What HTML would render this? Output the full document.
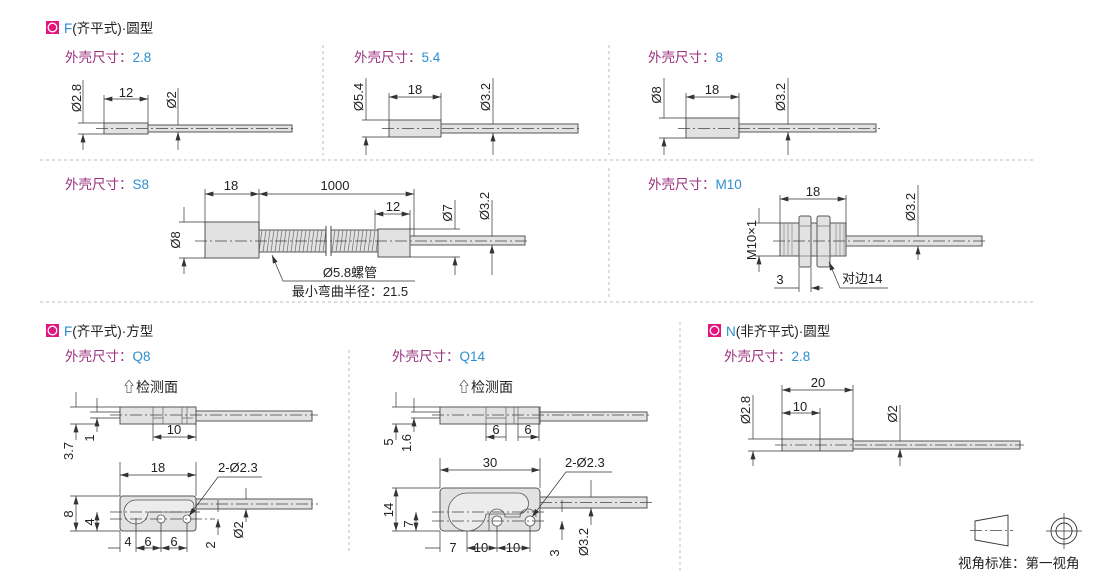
<!DOCTYPE html>
<html><head><meta charset="utf-8"><style>
body{margin:0;background:#fff}
svg{display:block;font-family:"Liberation Sans","Noto Sans CJK SC",sans-serif}
.p{fill:#e2e2e2;stroke:#555;stroke-width:1}
.d{stroke:#333;stroke-width:.7;fill:none}
.c{stroke:#444;stroke-width:.7;stroke-dasharray:12 3 2 3;fill:none}
.s{stroke:#bbb;stroke-width:1;stroke-dasharray:3 3;fill:none}
.t{font-size:13px;fill:#222}
.l{font-size:13.5px;fill:#9b2f7d}
.v{fill:#2b8fd0}
.h{font-size:13.5px;fill:#222}
</style></head><body>
<svg width="1110" height="574" viewBox="0 0 1110 574" xmlns="http://www.w3.org/2000/svg">
<defs><marker id="a" viewBox="0 0 10 6" refX="10" refY="3" markerUnits="userSpaceOnUse" markerWidth="9" markerHeight="5" orient="auto-start-reverse"><path d="M0,0L10,3L0,6z" fill="#333"/></marker></defs>

<!-- separators -->
<path class="s" d="M323,45V155M609,45V155M40,160H1035M609,168V298M40,302H1035M349,350V552M680,322V572"/>

<!-- headers -->
<rect x="46" y="21" width="13" height="13" fill="#e3157f"/><circle cx="52.5" cy="27.5" r="4.3" fill="none" stroke="#fff" stroke-width="1.3"/>
<text x="64" y="33" class="h"><tspan class="v">F</tspan>(齐平式)·圆型</text>
<rect x="46" y="324" width="13" height="13" fill="#e3157f"/><circle cx="52.5" cy="330.5" r="4.3" fill="none" stroke="#fff" stroke-width="1.3"/>
<text x="64" y="336" class="h"><tspan class="v">F</tspan>(齐平式)·方型</text>
<rect x="708" y="324" width="13" height="13" fill="#e3157f"/><circle cx="714.5" cy="330.5" r="4.3" fill="none" stroke="#fff" stroke-width="1.3"/>
<text x="726" y="336" class="h"><tspan class="v">N</tspan>(非齐平式)·圆型</text>

<text x="65" y="62" class="l">外壳尺寸：<tspan class="v">2.8</tspan></text>
<text x="354" y="62" class="l">外壳尺寸：<tspan class="v">5.4</tspan></text>
<text x="648" y="62" class="l">外壳尺寸：<tspan class="v">8</tspan></text>
<text x="65" y="189" class="l">外壳尺寸：<tspan class="v">S8</tspan></text>
<text x="648" y="189" class="l">外壳尺寸：<tspan class="v">M10</tspan></text>
<text x="65" y="361" class="l">外壳尺寸：<tspan class="v">Q8</tspan></text>
<text x="392" y="361" class="l">外壳尺寸：<tspan class="v">Q14</tspan></text>
<text x="724" y="361" class="l">外壳尺寸：<tspan class="v">2.8</tspan></text>

<!-- Part 2.8 -->
<rect class="p" x="104" y="123" width="44" height="11"/>
<rect class="p" x="148" y="125" width="144" height="7"/>
<path class="c" d="M96,128.5H296"/>
<path class="d" d="M78,123H104M78,134H104M83,80V123M83,150V134" marker-end="url(#a)"/>
<path class="d" d="M104,95V123M148,95V123"/><path class="d" d="M104,99H148" marker-start="url(#a)" marker-end="url(#a)"/>
<text class="t" x="126" y="97" text-anchor="middle">12</text>
<path class="d" d="M178,88V125M178,150V132" marker-end="url(#a)"/>
<text class="t" transform="translate(81,98) rotate(-90)" text-anchor="middle">Ø2.8</text>
<text class="t" transform="translate(176,100) rotate(-90)" text-anchor="middle">Ø2</text>

<!-- Part 5.4 -->
<rect class="p" x="389" y="120" width="52" height="17"/>
<rect class="p" x="441" y="124" width="137" height="9"/>
<path class="c" d="M382,128.5H582"/>
<path class="d" d="M362,120H389M362,137H389M366,78V120M366,155V137" marker-end="url(#a)"/>
<path class="d" d="M389,93V120M441,93V120"/><path class="d" d="M389,97H441" marker-start="url(#a)" marker-end="url(#a)"/>
<text class="t" x="415" y="94" text-anchor="middle">18</text>
<path class="d" d="M493,78V124M493,155V133" marker-end="url(#a)"/>
<text class="t" transform="translate(363,97) rotate(-90)" text-anchor="middle">Ø5.4</text>
<text class="t" transform="translate(490,97) rotate(-90)" text-anchor="middle">Ø3.2</text>

<!-- Part 8 -->
<rect class="p" x="686" y="118" width="53" height="20"/>
<rect class="p" x="739" y="124" width="137" height="8"/>
<path class="c" d="M678,128.5H880"/>
<path class="d" d="M659,118H686M659,138H686M664,78V118M664,155V138" marker-end="url(#a)"/>
<path class="d" d="M686,93V118M739,93V118"/><path class="d" d="M686,97H739" marker-start="url(#a)" marker-end="url(#a)"/>
<text class="t" x="712" y="94" text-anchor="middle">18</text>
<path class="d" d="M788,78V124M788,155V132" marker-end="url(#a)"/>
<text class="t" transform="translate(661,95) rotate(-90)" text-anchor="middle">Ø8</text>
<text class="t" transform="translate(785,97) rotate(-90)" text-anchor="middle">Ø3.2</text>

<!-- S8 -->
<rect class="p" x="259" y="230" width="67" height="22" fill="#ddd"/>
<rect class="p" x="331" y="230" width="47" height="22"/>
<path d="M262,230l-3,22M266,230l-3,22M270,230l-3,22M274,230l-3,22M278,230l-3,22M282,230l-3,22M286,230l-3,22M290,230l-3,22M294,230l-3,22M298,230l-3,22M302,230l-3,22M306,230l-3,22M310,230l-3,22M314,230l-3,22M318,230l-3,22M322,230l-3,22M326,230l-3,22M335,230l-3,22M339,230l-3,22M343,230l-3,22M347,230l-3,22M351,230l-3,22M355,230l-3,22M359,230l-3,22M363,230l-3,22M367,230l-3,22M371,230l-3,22M375,230l-3,22M379,230l-3,22" stroke="#777" stroke-width=".8"/>
<rect x="326" y="226" width="5" height="30" fill="#fff"/><path d="M326,226V256M331,226V256" stroke="#444" stroke-width="1"/>
<rect class="p" x="205" y="222" width="54" height="36"/>
<rect class="p" x="378" y="229" width="32" height="28"/>
<rect class="p" x="410" y="236" width="115" height="9"/>
<path class="c" d="M195,241H530"/>
<path class="d" d="M179,222H205M179,258H205M184,207V222M184,274V258" marker-end="url(#a)"/>
<text class="t" transform="translate(180,240) rotate(-90)" text-anchor="middle">Ø8</text>
<path class="d" d="M205,189V222M259,189V230M414,189V236M375,210V229M410,210V229"/>
<path class="d" d="M205,194H259" marker-start="url(#a)" marker-end="url(#a)"/>
<path class="d" d="M259,194H414" marker-start="url(#a)" marker-end="url(#a)"/>
<path class="d" d="M375,214H410" marker-start="url(#a)" marker-end="url(#a)"/>
<text class="t" x="231" y="190" text-anchor="middle">18</text>
<text class="t" x="335" y="190" text-anchor="middle">1000</text>
<text class="t" x="393" y="211" text-anchor="middle">12</text>
<path class="d" d="M410,229H460M410,257H460M455,200V229M455,275V257" marker-end="url(#a)"/>
<path class="d" d="M492,200V236M492,275V245" marker-end="url(#a)"/>
<text class="t" transform="translate(452,213) rotate(-90)" text-anchor="middle">Ø7</text>
<text class="t" transform="translate(489,206) rotate(-90)" text-anchor="middle">Ø3.2</text>
<path class="d" d="M415,281H283L272,255" marker-end="url(#a)"/>
<text class="t" x="350" y="277" text-anchor="middle">Ø5.8螺管</text>
<text class="t" x="350" y="296" text-anchor="middle">最小弯曲半径：21.5</text>

<!-- M10 -->
<rect class="p" x="780" y="223" width="66" height="33"/>
<path d="M784,223V256M788,223V256M792,223V256M836,223V256M840,223V256M844,223V256" stroke="#888" stroke-width=".7"/>
<rect class="p" x="799" y="216" width="12" height="51" rx="2"/>
<rect class="p" x="817" y="216" width="13" height="51" rx="2"/>
<path d="M799,226H811M799,256H811M817,226H830M817,256H830" stroke="#777" stroke-width=".7"/>
<rect class="p" x="846" y="236" width="136" height="10"/>
<path class="c" d="M773,241H988"/>
<path class="d" d="M780,195V223M846,195V236"/><path class="d" d="M780,199H846" marker-start="url(#a)" marker-end="url(#a)"/>
<text class="t" x="813" y="196" text-anchor="middle">18</text>
<path class="d" d="M918,185V236M918,260V246" marker-end="url(#a)"/>
<text class="t" transform="translate(915,207) rotate(-90)" text-anchor="middle">Ø3.2</text>
<path class="d" d="M755,223H780M755,256H780"/>
<path class="d" d="M759,208V223M759,272V256" marker-end="url(#a)"/>
<text class="t" transform="translate(756,240) rotate(-90)" text-anchor="middle">M10×1</text>
<path class="d" d="M799,267V292M811,267V292"/>
<path class="d" d="M774,288H799M823,288H811" marker-end="url(#a)"/>
<text class="t" x="780" y="284" text-anchor="middle">3</text>
<path class="d" d="M888,288H840L829,262" marker-end="url(#a)"/>
<text class="t" x="842" y="283">对边14</text>

<!-- Q8 top -->
<text class="t" x="122" y="392" style="font-size:14px">⇧检测面</text>
<rect class="p" x="120" y="407" width="76" height="17"/>
<rect class="p" x="196" y="411" width="116" height="10"/>
<path d="M153,407V424M163,407V424M182,407V424M187,407V424M153,418H163M182,418H193" stroke="#666" stroke-width=".7"/>
<path class="c" d="M110,415H318"/>
<path class="d" d="M70,407H120M90,412H120M90,418H120M70,424H96"/>
<path class="d" d="M76,392V407M76,440V424" marker-end="url(#a)"/>
<path class="d" d="M97,398V412M97,432V418" marker-end="url(#a)"/>
<text class="t" transform="translate(73,451) rotate(-90)" text-anchor="middle">3.7</text>
<text class="t" transform="translate(94,438) rotate(-90)" text-anchor="middle">1</text>
<path class="d" d="M153,424V441M196,424V441"/><path class="d" d="M153,437H196" marker-start="url(#a)" marker-end="url(#a)"/>
<text class="t" x="174" y="434" text-anchor="middle">10</text>

<!-- Q8 bottom -->
<rect class="p" x="120" y="496" width="76" height="35" rx="3"/>
<rect class="p" x="196" y="499" width="116" height="10"/>
<path d="M136,500H188A6,6 0 0 1 188,512H148A12,12 0 1 1 136,500Z" fill="#ececec" stroke="#555" stroke-width=".8"/>
<circle cx="161" cy="519" r="4" fill="#fff" stroke="#555" stroke-width=".8"/>
<circle cx="187" cy="519" r="4" fill="#fff" stroke="#555" stroke-width=".8"/>
<path class="c" d="M110,512H200M110,519H215M196,504H318"/>
<path class="d" d="M120,462V496M196,462V496"/><path class="d" d="M120,475H196" marker-start="url(#a)" marker-end="url(#a)"/>
<text class="t" x="158" y="472" text-anchor="middle">18</text>
<text class="t" x="218" y="472">2-Ø2.3</text>
<path class="d" d="M262,477H218L189,516" marker-end="url(#a)"/>
<path class="d" d="M70,496H120M70,531H120"/>
<path class="d" d="M76,496V531" marker-start="url(#a)" marker-end="url(#a)"/>
<path class="d" d="M97,512V531" marker-start="url(#a)" marker-end="url(#a)"/>
<text class="t" transform="translate(73,514) rotate(-90)" text-anchor="middle">8</text>
<text class="t" transform="translate(94,522) rotate(-90)" text-anchor="middle">4</text>
<path class="d" d="M120,531V552M136,518V552M161,523V552M187,523V552"/>
<path class="d" d="M108,548H120M148,548H136" marker-end="url(#a)"/>
<path class="d" d="M136,548H161" marker-start="url(#a)" marker-end="url(#a)"/>
<path class="d" d="M161,548H187" marker-start="url(#a)" marker-end="url(#a)"/>
<text class="t" x="128" y="546" text-anchor="middle">4</text>
<text class="t" x="148" y="546" text-anchor="middle">6</text>
<text class="t" x="174" y="546" text-anchor="middle">6</text>
<path class="d" d="M218,500V512M218,535V519" marker-end="url(#a)"/>
<text class="t" transform="translate(215,545) rotate(-90)" text-anchor="middle">2</text>
<path class="d" d="M246,488V499M246,522V509" marker-end="url(#a)"/>
<text class="t" transform="translate(243,530) rotate(-90)" text-anchor="middle">Ø2</text>

<!-- Q14 top -->
<text class="t" x="457" y="392" style="font-size:14px">⇧检测面</text>
<rect class="p" x="440" y="407" width="100" height="17"/>
<rect class="p" x="540" y="412" width="107" height="9"/>
<path d="M486,407V424M506,407V424M514,407V424M518,407V424M539,407V424M486,418H506M518,418H539" stroke="#666" stroke-width=".7"/>
<path class="c" d="M432,415H652"/>
<path class="d" d="M392,407H440M411,412H440M411,418H440M392,424H416"/>
<path class="d" d="M396,392V407M396,440V424" marker-end="url(#a)"/>
<path class="d" d="M414,398V412M414,432V418" marker-end="url(#a)"/>
<text class="t" transform="translate(393,442) rotate(-90)" text-anchor="middle">5</text>
<text class="t" transform="translate(411,443) rotate(-90)" text-anchor="middle">1.6</text>
<path class="d" d="M486,424V441M506,424V441M518,424V441M539,424V441"/>
<path class="d" d="M486,437H506M518,437H539" marker-start="url(#a)" marker-end="url(#a)"/>
<text class="t" x="496" y="434" text-anchor="middle">6</text>
<text class="t" x="528" y="434" text-anchor="middle">6</text>

<!-- Q14 bottom -->
<rect class="p" x="440" y="488" width="100" height="43" rx="4"/>
<rect class="p" x="540" y="497" width="107" height="11"/>
<path d="M467,493H518A10.5,10.5 0 0 1 518,514H486A19,19 0 1 1 467,493Z" fill="#ececec" stroke="#555" stroke-width=".8"/>
<path d="M489,531V517A8,8 0 0 1 505,517H520A8,8 0 0 1 536,517" fill="none" stroke="#555" stroke-width=".8"/>
<circle cx="497" cy="521" r="5" fill="#fff" stroke="#555" stroke-width=".8"/>
<circle cx="530" cy="521" r="5" fill="#fff" stroke="#555" stroke-width=".8"/>
<path class="c" d="M432,512H545M432,521H545M540,502.5H652"/>
<path class="d" d="M440,458V488M540,458V488"/><path class="d" d="M440,470H540" marker-start="url(#a)" marker-end="url(#a)"/>
<text class="t" x="490" y="467" text-anchor="middle">30</text>
<text class="t" x="565" y="467">2-Ø2.3</text>
<path class="d" d="M612,472H566L532,517" marker-end="url(#a)"/>
<path class="d" d="M392,488H440M392,531H440"/>
<path class="d" d="M396,488V531" marker-start="url(#a)" marker-end="url(#a)"/>
<path class="d" d="M416,512V531" marker-start="url(#a)" marker-end="url(#a)"/>
<text class="t" transform="translate(393,510) rotate(-90)" text-anchor="middle">14</text>
<text class="t" transform="translate(413,524) rotate(-90)" text-anchor="middle">7</text>
<path class="d" d="M440,531V552M467,531V552M497,526V552M530,526V552"/>
<path class="d" d="M425,548H440M482,548H467" marker-end="url(#a)"/>
<path class="d" d="M467,548H497" marker-start="url(#a)" marker-end="url(#a)"/>
<path class="d" d="M497,548H530" marker-start="url(#a)" marker-end="url(#a)"/>
<text class="t" x="453" y="552" text-anchor="middle">7</text>
<text class="t" x="481" y="552" text-anchor="middle">10</text>
<text class="t" x="513" y="552" text-anchor="middle">10</text>
<path class="d" d="M562,500V512M562,540V521" marker-end="url(#a)"/>
<text class="t" transform="translate(559,553) rotate(-90)" text-anchor="middle">3</text>
<path class="d" d="M591,480V497M591,525V508" marker-end="url(#a)"/>
<text class="t" transform="translate(588,542) rotate(-90)" text-anchor="middle">Ø3.2</text>

<!-- N 2.8 -->
<rect class="p" x="782" y="439" width="71" height="12"/>
<path d="M820,439V451" stroke="#555"/>
<rect class="p" x="853" y="441" width="167" height="8"/>
<path class="c" d="M775,445H1024"/>
<path class="d" d="M782,385V439M853,385V441M820,408V439"/>
<path class="d" d="M782,390H853" marker-start="url(#a)" marker-end="url(#a)"/>
<path class="d" d="M782,413H820" marker-start="url(#a)" marker-end="url(#a)"/>
<text class="t" x="818" y="387" text-anchor="middle">20</text>
<text class="t" x="800" y="411" text-anchor="middle">10</text>
<path class="d" d="M748,439H782M748,451H782M753,395V439M753,466V451" marker-end="url(#a)"/>
<text class="t" transform="translate(750,410) rotate(-90)" text-anchor="middle">Ø2.8</text>
<path class="d" d="M900,405V441M900,466V449" marker-end="url(#a)"/>
<text class="t" transform="translate(897,414) rotate(-90)" text-anchor="middle">Ø2</text>

<!-- view symbol -->
<path d="M975,521L1008,515V546L975,540Z" fill="none" stroke="#333" stroke-width=".9"/>
<path class="c" d="M970,530.5H1013"/>
<circle cx="1064" cy="531" r="13" fill="none" stroke="#333" stroke-width=".9"/>
<circle cx="1064" cy="531" r="8" fill="none" stroke="#333" stroke-width=".9"/>
<path d="M1046,531H1082M1064,513V549" stroke="#333" stroke-width=".7"/>
<text x="958" y="568" style="font-size:13.5px;fill:#222">视角标准：第一视角</text>
</svg>
</body></html>
